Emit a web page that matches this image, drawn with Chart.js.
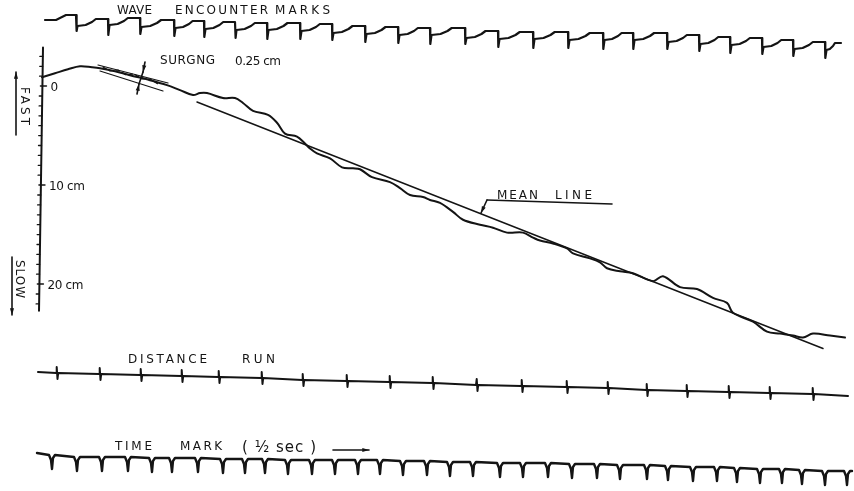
<!DOCTYPE html>
<html>
<head>
<meta charset="utf-8">
<script src="https://cdn.jsdelivr.net/npm/chart.js@4.4.1/dist/chart.umd.min.js"></script>
<style>
  html, body { margin: 0; padding: 0; background: #fff; }
  #wrap { width: 854px; height: 491px; }
</style>
</head>
<body>
<div id="wrap"><canvas id="record" width="854" height="491"></canvas></div>
<script>
// main trace: position along the record vs displacement in cm (down = slow)
const runX = [42, 55, 68, 80, 92, 100, 115, 130, 150, 167, 180, 193, 200, 207, 223, 235, 243, 253, 268, 277,
  285, 297, 305, 310, 317, 330, 342, 353, 360, 372, 390, 400, 410, 423, 430, 440, 453, 463, 480, 493,
  507, 523, 533, 540, 553, 567, 573, 590, 600, 607, 620, 633, 653, 663, 680, 697, 713, 727, 733, 753,
  767, 780, 793, 803, 813, 830, 845];
const runCm = [-0.9, -1.3, -1.7, -2.0, -1.9, -1.8, -1.5, -1.1, -0.6, -0.1, 0.4, 0.9, 0.7, 0.7, 1.2, 1.2, 1.7, 2.5, 2.9, 3.7,
  4.8, 5.1, 5.8, 6.3, 6.8, 7.3, 8.2, 8.3, 8.4, 9.2, 9.7, 10.3, 11.0, 11.2, 11.5, 11.8, 12.7, 13.5, 14.0, 14.3,
  14.8, 14.8, 15.3, 15.6, 15.9, 16.4, 16.9, 17.4, 17.8, 18.4, 18.7, 18.9, 19.7, 19.2, 20.3, 20.5, 21.4, 21.9, 22.9, 23.8,
  24.8, 25.0, 25.2, 25.4, 25.0, 25.2, 25.4];

const meanX = [197, 823];
const meanCm = [1.6, 26.5];

// left scale
const axisCm = [-3.9, 22.7];
const axisX = [43, 39];
const yTickValues = [0, 10, 20];
const yTickLabels = ['0', '10 cm', '20 cm'];
const yMinorTicks = [-3, -2, -1, 1, 2, 3, 4, 5, 6, 7, 8, 9, 11, 12, 13, 14, 15, 16, 17, 18, 19, 21, 22];

// surging band (record units)
const surgeUpperX = [98, 168], surgeUpperY = [65, 83];
const surgeLowerX = [100, 163], surgeLowerY = [71, 91];
const surgeMidX = [103, 110, 118, 126, 134, 142, 150, 158];
const surgeMidY = [67, 71, 70, 75, 74, 79, 79, 84];

// wave encounter marks (record units)
const waveLeadX = [45, 56, 62, 66];
const waveLeadY = [20, 20, 17, 15];
const waveDropX = [76, 108, 140, 174, 204, 235, 267, 300, 332, 365, 398, 430, 465, 498, 533, 568, 603, 633,
  667, 699, 730, 762, 793, 825];
const waveHigh = [19, 18, 20, 21, 22, 23, 23, 24, 26, 27, 28, 28, 31, 32, 32, 33, 33, 33, 35, 37, 38, 40, 42, 43];
const waveEndX = 841;

// distance run marks
const distStart = [38, 372], distEnd = [848, 396];
const distTickX = [57, 100, 141, 182, 219, 262, 303, 347, 390, 433, 477, 522, 567, 608, 647, 687, 729, 770, 813];
const distLevel = [373, 374, 375, 376, 377, 378, 380, 381, 382, 383, 385, 386, 387, 388, 390, 391, 392, 393, 394];

// time marks (1/2 sec)
const timeStart = [37, 453], timeEnd = [852, 471];
const timeMarkX = [52, 77, 102, 128, 152, 172, 198, 223, 245, 265, 288, 312, 335, 358, 380, 403, 427, 450, 473,
  500, 523, 548, 572, 597, 620, 647, 668, 693, 717, 737, 760, 782, 802, 825, 847];
const timeTop = [455, 457, 457, 457, 458, 458, 458, 459, 459, 459, 460, 460, 460, 460, 460, 461, 461, 462, 462,
  463, 463, 463, 464, 464, 465, 465, 466, 467, 467, 468, 469, 469, 470, 471, 471];

const ink = '#141414';

function pairs(xs, ys) {
  return xs.map((x, i) => ({ x: x, y: ys[i] }));
}

function buildWave() {
  const pts = pairs(waveLeadX, waveLeadY);
  let prev = waveLeadY[waveLeadY.length - 1];
  waveDropX.forEach((d, i) => {
    const h = waveHigh[i];
    const next = i < waveDropX.length - 1 ? waveDropX[i + 1] : waveEndX;
    const p = next - d;
    pts.push({ x: d, y: prev }, { x: d + 0.6, y: prev + 16 }, { x: d + 1.5, y: h + 7 },
      { x: d + p * 0.3, y: h + 6 }, { x: d + p * 0.5, y: h + 3 }, { x: d + p * 0.62, y: h }, { x: next, y: h });
    prev = h;
  });
  return pts;
}

function buildDistance() {
  const pts = [{ x: distStart[0], y: distStart[1] }];
  distTickX.forEach((t, i) => {
    const L = distLevel[i];
    pts.push({ x: t - 1, y: L }, { x: t - 0.3, y: L - 6 }, { x: t + 0.5, y: L + 6 }, { x: t + 1.2, y: L });
  });
  pts.push({ x: distEnd[0], y: distEnd[1] });
  return pts;
}

function buildTime() {
  const pts = [{ x: timeStart[0], y: timeStart[1] }];
  timeMarkX.forEach((m, i) => {
    const t = timeTop[i];
    pts.push({ x: m - 3, y: t }, { x: m - 1, y: t + 5 }, { x: m, y: t + 14 }, { x: m + 1, y: t + 3 }, { x: m + 3, y: t });
  });
  pts.push({ x: timeEnd[0], y: timeEnd[1] });
  return pts;
}

// hand lettering: text, x from, x to, y centre, size
const labels = [
  ['WAVE', 117, 152, 11, 12],
  ['ENCOUNTER', 175, 268, 11, 12],
  ['MARKS', 275, 330, 11, 12],
  ['SURGNG', 160, 215, 61, 12],
  ['0.25 cm', 235, 281, 62, 12],
  ['MEAN', 497, 538, 196, 12],
  ['LINE', 555, 592, 196, 12],
  ['DISTANCE', 128, 207, 360, 12],
  ['RUN', 242, 275, 360, 12],
  ['TIME', 115, 152, 447, 12],
  ['MARK', 180, 222, 447, 12],
  ['( ½ sec )', 242, 316, 448, 15]
];
const sideLabels = [
  ['FAST', 24, 87, 125],
  ['SLOW', 19, 260, 298]
];
// arrows: x0, y0, x1, y1 (head at the end)
const arrows = [
  [16, 135, 16, 72],
  [12, 257, 12, 315],
  [333, 450, 369, 450],
  [145, 62, 143, 72],
  [137, 94, 139, 84],
  [487, 200, 481, 213]
];
const plainLines = [
  [143, 72, 139, 84],
  [487, 200, 612, 204]
];

function fitText(ctx, text, x0, x1, yc, size) {
  ctx.font = size + 'px "DejaVu Sans"';
  ctx.letterSpacing = '0px';
  const w = ctx.measureText(text).width;
  const gap = text.length > 1 ? (x1 - x0 - w) / (text.length - 1) : 0;
  ctx.letterSpacing = Math.max(gap, -1) + 'px';
  ctx.textAlign = 'left';
  ctx.textBaseline = 'middle';
  ctx.fillText(text, x0, yc);
  ctx.letterSpacing = '0px';
}

const sketchPlugin = {
  id: 'sketch',
  afterDatasetsDraw(chart) {
    const ctx = chart.ctx;
    const sx = chart.scales.x, sy = chart.scales.y, sr = chart.scales.yRec;
    const X = v => sx.getPixelForValue(v);
    const R = v => sr.getPixelForValue(v);
    ctx.save();
    ctx.strokeStyle = ink;
    ctx.fillStyle = ink;
    ctx.lineCap = 'round';

    // scale ticks
    const axisAt = v => axisX[0] + (axisX[1] - axisX[0]) * (v - axisCm[0]) / (axisCm[1] - axisCm[0]);
    ctx.lineWidth = 1.3;
    yMinorTicks.forEach(v => {
      const py = sy.getPixelForValue(v), px = X(axisAt(v));
      ctx.beginPath(); ctx.moveTo(px - 3, py); ctx.lineTo(px, py); ctx.stroke();
    });
    ctx.lineWidth = 1.5;
    yTickValues.forEach((v, i) => {
      const py = sy.getPixelForValue(v), px = X(axisAt(v));
      ctx.beginPath(); ctx.moveTo(px - 2, py); ctx.lineTo(px + 4, py); ctx.stroke();
      fitText(ctx, yTickLabels[i], px + 8, px + 8 + (i === 0 ? 8 : 36), py + 2, 12);
    });

    // plain lines and arrows
    ctx.lineWidth = 1.6;
    plainLines.forEach(l => {
      ctx.beginPath(); ctx.moveTo(X(l[0]), R(l[1])); ctx.lineTo(X(l[2]), R(l[3])); ctx.stroke();
    });
    arrows.forEach(a => {
      const x0 = X(a[0]), y0 = R(a[1]), x1 = X(a[2]), y1 = R(a[3]);
      ctx.beginPath(); ctx.moveTo(x0, y0); ctx.lineTo(x1, y1); ctx.stroke();
      const ang = Math.atan2(y1 - y0, x1 - x0);
      ctx.beginPath();
      ctx.moveTo(x1, y1);
      ctx.lineTo(x1 - 7 * Math.cos(ang - 0.3), y1 - 7 * Math.sin(ang - 0.3));
      ctx.lineTo(x1 - 7 * Math.cos(ang + 0.3), y1 - 7 * Math.sin(ang + 0.3));
      ctx.closePath(); ctx.fill();
    });

    // lettering
    labels.forEach(l => fitText(ctx, l[0], X(l[1]), X(l[2]), R(l[3]), l[4]));
    sideLabels.forEach(l => {
      const y0 = R(l[2]), y1 = R(l[3]);
      ctx.save();
      ctx.translate(X(l[1]), y0);
      ctx.rotate(Math.PI / 2);
      fitText(ctx, l[0], 0, y1 - y0, 0, 12);
      ctx.restore();
    });
    ctx.restore();
  }
};

const lineStyle = (w) => ({
  borderColor: ink, borderWidth: w, pointRadius: 0, fill: false,
  borderCapStyle: 'round', borderJoinStyle: 'round'
});

new Chart(document.getElementById('record'), {
  type: 'line',
  data: {
    datasets: [
      Object.assign({ data: pairs(runX, runCm), yAxisID: 'y', tension: 0.35 }, lineStyle(2)),
      Object.assign({ data: pairs(meanX, meanCm), yAxisID: 'y' }, lineStyle(1.5)),
      Object.assign({ data: pairs(axisX, axisCm), yAxisID: 'y' }, lineStyle(2)),
      Object.assign({ data: pairs(surgeUpperX, surgeUpperY), yAxisID: 'yRec' }, lineStyle(1.2)),
      Object.assign({ data: pairs(surgeLowerX, surgeLowerY), yAxisID: 'yRec' }, lineStyle(1.2)),
      Object.assign({ data: pairs(surgeMidX, surgeMidY), yAxisID: 'yRec', borderDash: [4, 3] }, lineStyle(1.2)),
      Object.assign({ data: buildWave(), yAxisID: 'yRec' }, lineStyle(2.2)),
      Object.assign({ data: buildDistance(), yAxisID: 'yRec' }, lineStyle(2)),
      Object.assign({ data: buildTime(), yAxisID: 'yRec' }, lineStyle(2.4))
    ]
  },
  options: {
    responsive: false,
    devicePixelRatio: 1,
    animation: false,
    events: [],
    layout: { padding: 0 },
    scales: {
      x: { type: 'linear', min: 0, max: 854, display: false },
      y: { type: 'linear', min: -8.7, max: 40.9, reverse: true, display: false },
      yRec: { type: 'linear', min: 0, max: 491, reverse: true, display: false }
    },
    plugins: {
      legend: { display: false },
      tooltip: { enabled: false }
    }
  },
  plugins: [sketchPlugin]
});
</script>
</body>
</html>
